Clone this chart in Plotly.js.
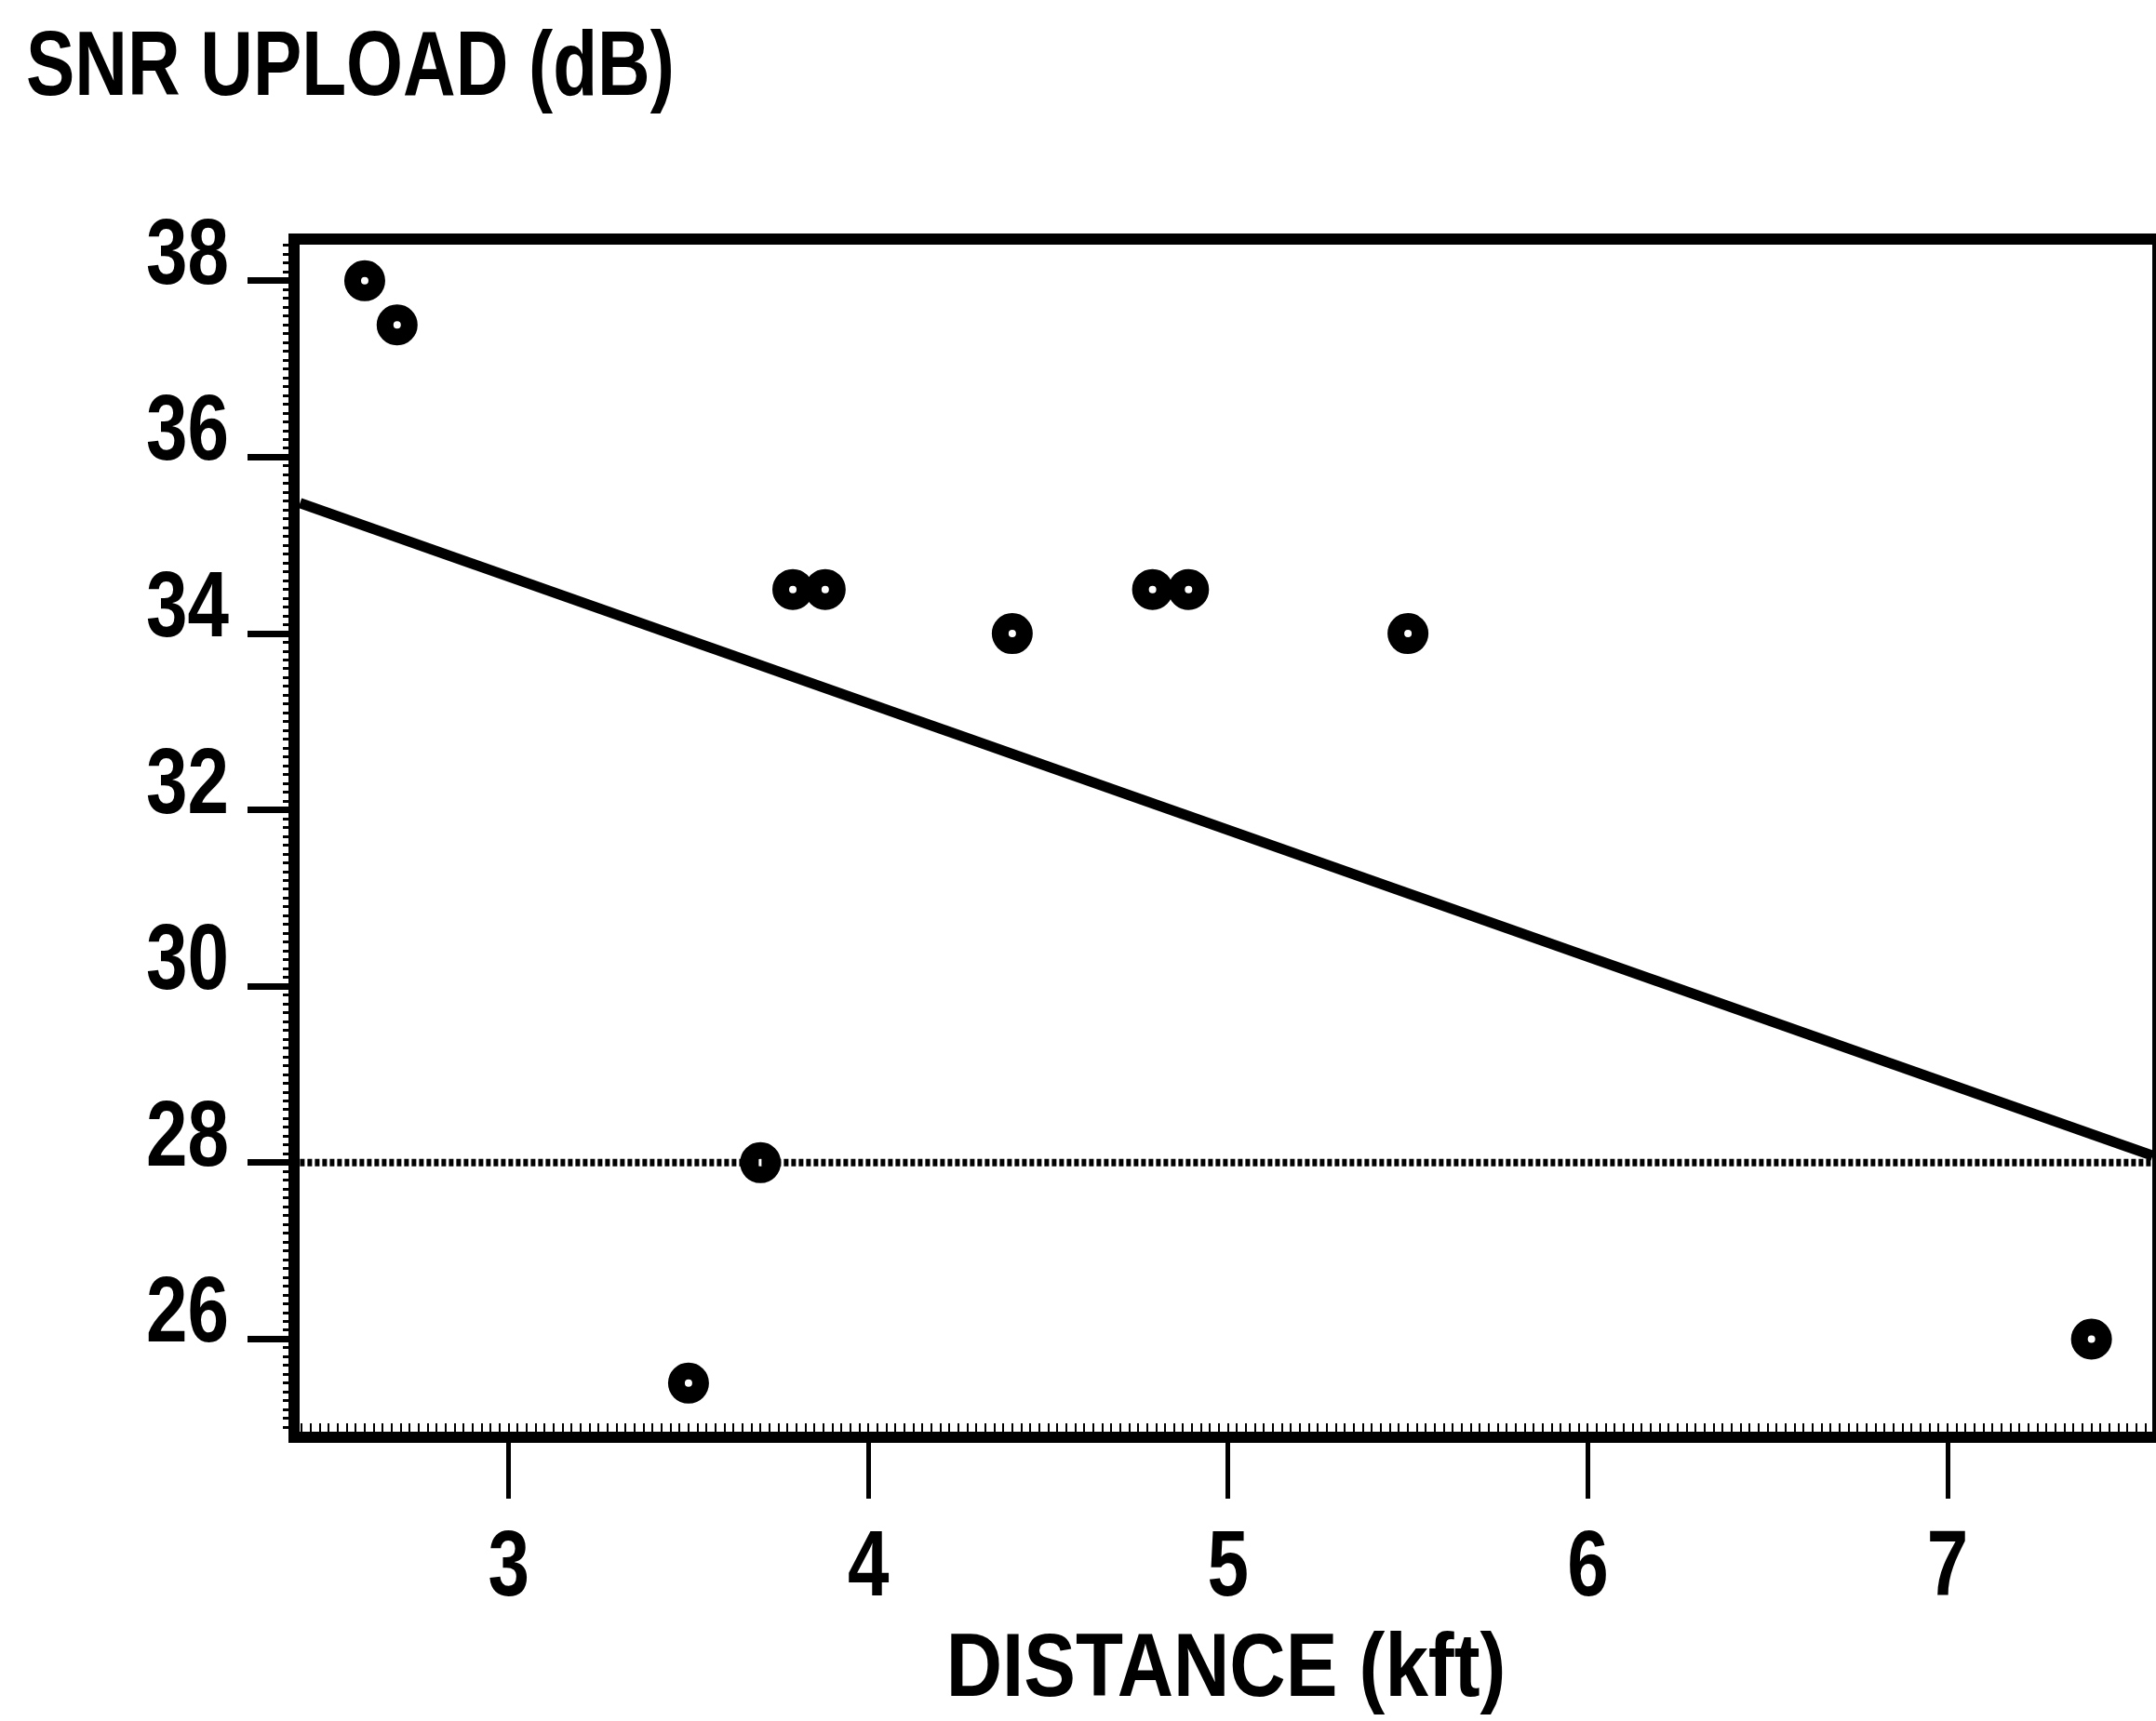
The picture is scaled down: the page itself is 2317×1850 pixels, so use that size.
<!DOCTYPE html>
<html>
<head>
<meta charset="utf-8">
<script src="https://cdn.plot.ly/plotly-3.0.1.min.js"></script>
<style>
  html, body { margin: 0; padding: 0; background: #ffffff; }
  #chart { width: 2317px; height: 1850px; }
</style>
</head>
<body>
<div id="chart"></div>
<script>
// ---- data ----
const distanceKft = [2.60, 2.69, 3.79, 3.88, 4.40, 4.79, 4.89, 5.50, 3.70, 3.50, 7.40];
const snrUploadDb = [38.0, 37.5, 34.5, 34.5, 34.0, 34.5, 34.5, 34.0, 28.0, 25.5, 26.0];

const fitX = [2.42, 7.57];
const fitY = [35.48, 28.08];

const thresholdDb = 28;
const thresholdX = [2.42, 7.57];

const xTickVals = [3, 4, 5, 6, 7];
const xTickText = ['3', '4', '5', '6', '7'];
const yTickVals = [26, 28, 30, 32, 34, 36, 38];
const yTickText = ['26', '28', '30', '32', '34', '36', '38'];

const chartTitle = 'SNR UPLOAD (dB)';
const xTitle = 'DISTANCE (kft)';

// ---- drawing ----
const FONT = '"Liberation Sans", Arial, sans-serif';
const NARROW = 0.8;        // horizontal condensing of texts (narrow scanned typeface)
const NARROW_XTITLE = 0.87;

const traces = [
  {
    type: 'scatter', mode: 'lines',
    x: thresholdX, y: thresholdX.map(() => thresholdDb),
    line: { color: '#000', width: 8, dash: '5px,3px' },
    hoverinfo: 'skip'
  },
  {
    type: 'scatter', mode: 'lines',
    x: fitX, y: fitY,
    line: { color: '#000', width: 11 },
    hoverinfo: 'skip'
  },
  {
    type: 'scatter', mode: 'markers',
    x: distanceKft, y: snrUploadDb,
    marker: { symbol: 'circle-open', size: 26, color: '#000', line: { color: '#000', width: 18 } }
  }
];

const layout = {
  width: 2317, height: 1850,
  paper_bgcolor: '#fff', plot_bgcolor: '#fff',
  showlegend: false,
  margin: { l: 322, r: 4, t: 263, b: 311, pad: 0 },
  font: { family: FONT, color: '#000', size: 100, weight: 'bold' },
  title: {
    text: chartTitle,
    xref: 'container', yref: 'container',
    x: 28 / 2317, xanchor: 'left',
    y: 1 - 68 / 1850, yanchor: 'middle',
    font: { family: FONT, size: 98, color: '#000', weight: 'bold' }
  },
  xaxis: {
    range: [2.419, 7.569],
    showgrid: false, zeroline: false,
    showline: true, linecolor: '#000', linewidth: 12, mirror: true,
    tickmode: 'array', tickvals: xTickVals, ticktext: xTickText,
    ticks: 'outside', ticklen: 60, tickwidth: 5, tickcolor: '#000',
    ticklabelstandoff: -16,
    tickfont: { family: FONT, size: 100, color: '#000', weight: 'bold' },
    minor: { ticks: 'inside', ticklen: 9, tickwidth: 2, dtick: 0.025, tickcolor: '#000', showgrid: false },
    title: { text: xTitle, standoff: 26, font: { family: FONT, size: 96, color: '#000', weight: 'bold' } }
  },
  yaxis: {
    range: [24.95, 38.41],
    showgrid: false, zeroline: false,
    showline: true, linecolor: '#000', linewidth: 12, mirror: true,
    tickmode: 'array', tickvals: yTickVals, ticktext: yTickText,
    ticks: 'outside', ticklen: 44, tickwidth: 7, tickcolor: '#000',
    ticklabelstandoff: 0,
    ticklabelshift: -32,
    tickfont: { family: FONT, size: 100, color: '#000', weight: 'bold' },
    minor: { ticks: 'outside', ticklen: 6, tickwidth: 3, dtick: 0.1, tickcolor: '#000', showgrid: false }
  }
};

Plotly.newPlot('chart', traces, layout, { staticPlot: true, displayModeBar: false }).then(function (gd) {
  // condense every text horizontally about its own anchor point
  gd.querySelectorAll('svg text').forEach(function (t) {
    const s = t.classList.contains('xtitle') ? NARROW_XTITLE : NARROW;
    const ax = parseFloat(t.getAttribute('x')) || 0;
    const prev = t.getAttribute('transform') || '';
    t.setAttribute('transform', prev + ' translate(' + ax + ',0) scale(' + s + ',1) translate(' + (-ax) + ',0)');
  });
});
</script>
</body>
</html>
